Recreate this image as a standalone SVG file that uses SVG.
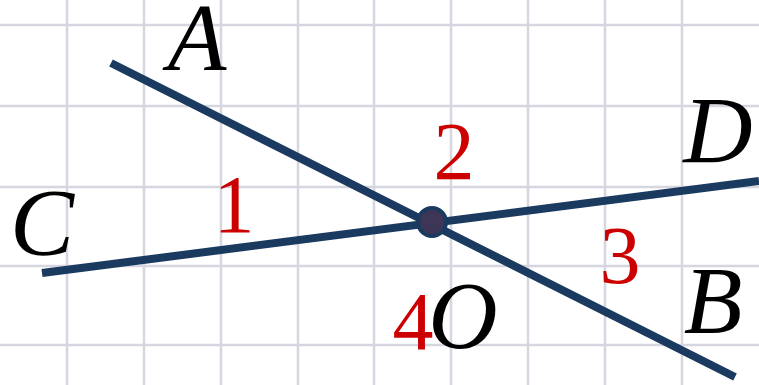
<svg xmlns="http://www.w3.org/2000/svg" width="759" height="385" viewBox="0 0 759 385">
<style>
.grid line{stroke:#d6d6e0;stroke-width:2.5}
.ln{stroke:#1b3a60;stroke-width:8;stroke-linecap:butt}
.lbl{font-family:"Liberation Serif",serif;font-style:italic;font-size:96px;fill:#000;text-anchor:middle}
.num{font-family:"Liberation Serif",serif;font-size:82px;fill:#cc0000;text-anchor:middle}
</style>
<rect width="759" height="385" fill="#ffffff"/>
<g class="grid">
<line x1="67" y1="0" x2="67" y2="385"/>
<line x1="144" y1="0" x2="144" y2="385"/>
<line x1="221" y1="0" x2="221" y2="385"/>
<line x1="298" y1="0" x2="298" y2="385"/>
<line x1="374" y1="0" x2="374" y2="385"/>
<line x1="451" y1="0" x2="451" y2="385"/>
<line x1="528" y1="0" x2="528" y2="385"/>
<line x1="605" y1="0" x2="605" y2="385"/>
<line x1="682" y1="0" x2="682" y2="385"/>
<line x1="0" y1="25" x2="759" y2="25"/>
<line x1="0" y1="106" x2="759" y2="106"/>
<line x1="0" y1="187" x2="759" y2="187"/>
<line x1="0" y1="266" x2="759" y2="266"/>
<line x1="0" y1="345" x2="759" y2="345"/>
</g>
<g id="connectors">
<line class="ln" x1="111" y1="63" x2="735" y2="377"/>
<line class="ln" x1="42" y1="273" x2="759" y2="181"/>
</g>
<g id="O">
<circle cx="432" cy="222" r="14" fill="#3d3656" stroke="#1b3a60" stroke-width="4"/>
<text class="lbl" x="463" y="348">O</text>
</g>
<g id="A"><text class="lbl" x="197" y="70">A</text></g>
<g id="B"><text class="lbl" x="713" y="333">B</text></g>
<g id="C"><text class="lbl" x="42" y="255">C</text></g>
<g id="D"><text class="lbl" x="718" y="163">D</text></g>
<g id="n1"><text class="num" x="234" y="232">1</text></g>
<g id="n2"><text class="num" x="454" y="179">2</text></g>
<g id="n3"><text class="num" x="620" y="283">3</text></g>
<g id="n4"><text class="num" x="413" y="349">4</text></g>
</svg>
